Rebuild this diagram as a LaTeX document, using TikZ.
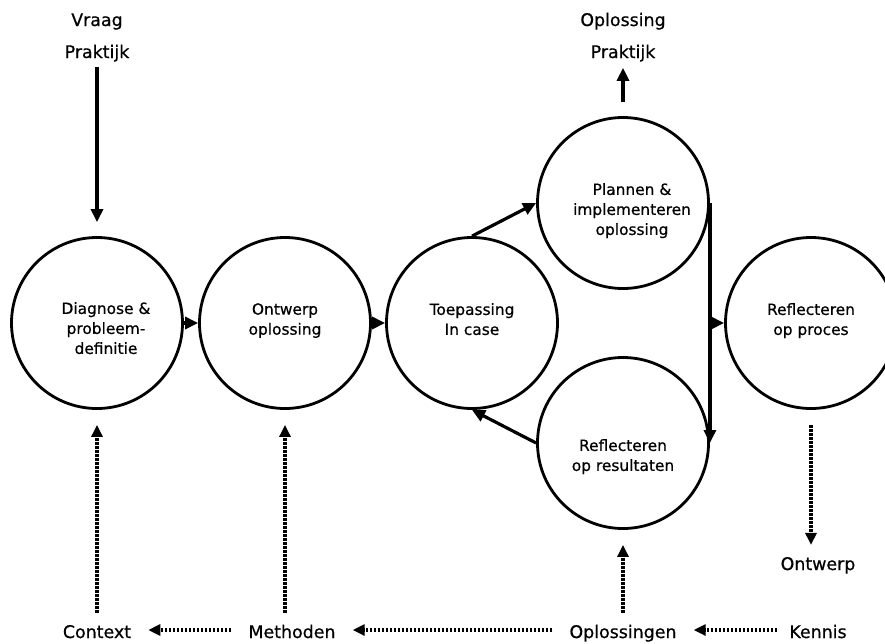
\documentclass[tikz,border=0pt]{standalone}
\usepackage{fontspec}
\setmainfont{DejaVu Sans}[FakeBold=0.6]
\usetikzlibrary{arrows.meta}
\begin{document}
\begin{tikzpicture}[x=1pt,y=-1pt,
  stage/.style={circle,draw,line width=2.8pt,minimum size=171pt,inner sep=0pt},
  ctext/.style={font=\fontsize{15.4}{20}\selectfont,align=center,anchor=north,inner sep=0pt},
  lab/.style={font=\fontsize{17.4}{20}\selectfont,anchor=base,inner sep=0pt},
  flow/.style={line width=3.2pt,-{Triangle[length=13pt,width=12pt]}},
  dotflow/.style={line width=3.4pt,dash pattern=on 2.6pt off 1.4pt,-{Triangle[length=12pt,width=11pt]}},
]
\useasboundingbox (0,0) rectangle (885,643);

% circles
\node[stage] (c1) at (97,323) {};
\node[stage] (c2) at (285,323) {};
\node[stage] (c3) at (472,323) {};
\node[stage] (c4) at (623,203) {};
\node[stage] (c5) at (623,443) {};
\node[stage] (c6) at (811,323) {};

% circle texts
\node[ctext] (t1) at (106,302) {Diagnose \&\\probleem-\\definitie};
\node[ctext] (t2) at (285,303) {Ontwerp\\oplossing};
\node[ctext] (t3) at (472,303) {Toepassing\\In case};
\node[ctext] (t4) at (632,183) {Plannen \&\\implementeren\\oplossing};
\node[ctext] (t5) at (623,439) {Reflecteren\\op resultaten};
\node[ctext] (t6) at (811,303) {Reflecteren\\op proces};

% outer labels
\node[lab] (vraag) at (97,26) {Vraag};
\node[lab] (pr1) at (97,58) {Praktijk};
\node[lab] (opl) at (623,26) {Oplossing};
\node[lab] (pr2) at (623,58) {Praktijk};
\node[lab] (context) at (97,638) {Context};
\node[lab] (methoden) at (292,638) {Methoden};
\node[lab] (oplossingen) at (623,638) {Oplossingen};
\node[lab] (kennis) at (818,638) {Kennis};
\node[lab] (ontwerp) at (818,570) {Ontwerp};

\coordinate (hy) at (0,630);
\coordinate (br) at (c4.east |- c6.west);

% solid arrows
\draw[flow,shorten <=5pt,shorten >=14pt] (pr1.south) -- (c1.north);
\draw[flow,shorten <=14pt,shorten >=6pt] (c4.north) -- (pr2.south);
\draw[flow] (c1.east) -- (c2.west);
\draw[flow] (c2.east) -- (c3.west);
\draw[flow] (c3.north) -- (c4.west);
\draw[flow] (c5.west) -- (c3.south);
\draw[flow] (c4.east) -- (c5.east);
\draw[flow] (br) -- (c6.west);

% dotted arrows
\draw[dotflow,shorten <=12pt,shorten >=15pt] (context.north) -- (c1.south);
\draw[dotflow,shorten <=12pt,shorten >=15pt] (c2.south |- methoden.north) -- (c2.south);
\draw[dotflow,shorten <=12pt,shorten >=15pt] (oplossingen.north) -- (c5.south);
\draw[dotflow,shorten <=15pt,shorten >=12pt] (c6.south) -- (c6.south |- ontwerp.north);
\draw[dotflow,shorten <=17pt,shorten >=17pt] (methoden.west |- hy) -- (context.east |- hy);
\draw[dotflow,shorten <=17pt,shorten >=17pt] (oplossingen.west |- hy) -- (methoden.east |- hy);
\draw[dotflow,shorten <=12pt,shorten >=17pt] (kennis.west |- hy) -- (oplossingen.east |- hy);
\end{tikzpicture}
\end{document}
